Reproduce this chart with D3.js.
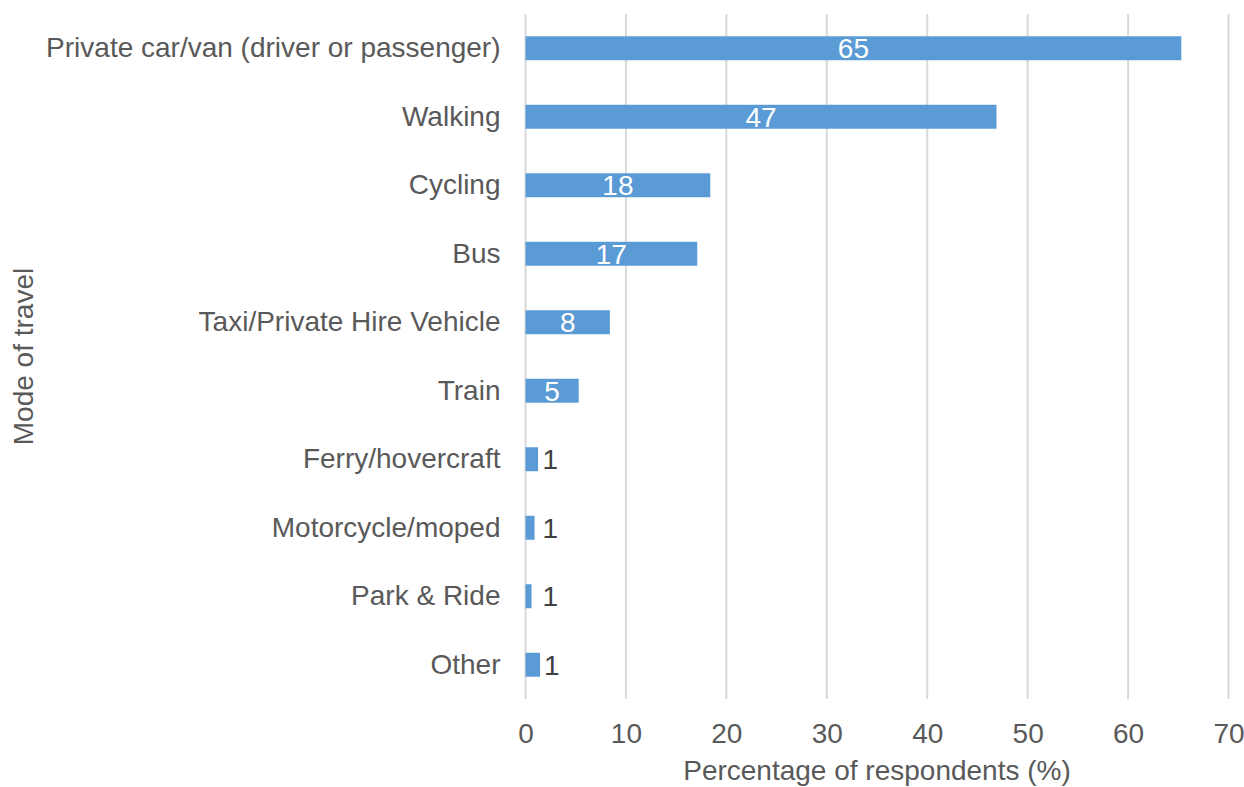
<!DOCTYPE html>
<html>
<head>
<meta charset="utf-8">
<script src="https://cdn.jsdelivr.net/npm/d3@7"></script>
<style>
  html, body { margin: 0; padding: 0; background: #fff; }
  svg text { font-family: "Liberation Sans", Arial, sans-serif; }
</style>
</head>
<body>
<svg id="chart" width="1244" height="787"></svg>
<script>
// Modes of travel and share of respondents using each (%)
const modes = [
  "Private car/van (driver or passenger)",
  "Walking",
  "Cycling",
  "Bus",
  "Taxi/Private Hire Vehicle",
  "Train",
  "Ferry/hovercraft",
  "Motorcycle/moped",
  "Park & Ride",
  "Other"
];
const shares = [65.3, 46.9, 18.4, 17.1, 8.4, 5.3, 1.25, 0.9, 0.6, 1.45];
const xTicks = [0, 10, 20, 30, 40, 50, 60, 70];
const xTitle = "Percentage of respondents (%)";
const yTitle = "Mode of travel";

const rows = modes.map((m, i) => ({ mode: m, value: shares[i] }));

const svg = d3.select("#chart");
const margin = { left: 525.5, right: 15, top: 14, bottom: 88 };
const W = 1244, H = 787;
const fontSize = 28;

const x = d3.scaleLinear().domain([0, 70]).range([margin.left, W - margin.right - 0.5]);
const y = d3.scaleBand().domain(modes).range([margin.top, H - margin.bottom]).paddingInner(0.65).paddingOuter(0.325);

const textCol = "#595959";

// vertical gridlines
svg.append("g")
  .selectAll("line")
  .data(xTicks)
  .join("line")
  .attr("x1", d => x(d)).attr("x2", d => x(d))
  .attr("y1", margin.top).attr("y2", H - margin.bottom)
  .attr("stroke", "#d9d9d9").attr("stroke-width", 2);

// x axis tick labels
const xAxis = d3.axisBottom(x).tickValues(xTicks).tickSize(0).tickPadding(0).tickFormat(d3.format("d"));
const gx = svg.append("g").attr("transform", `translate(0,743)`).call(xAxis);
gx.select(".domain").remove();
gx.selectAll("text").attr("fill", textCol).attr("font-size", fontSize).attr("y", 0).attr("dy", null)
  .style("font-family", "'Liberation Sans', Arial, sans-serif");

// y axis category labels
const yAxis = d3.axisLeft(y).tickSize(0).tickPadding(25);
const gy = svg.append("g").attr("transform", `translate(${margin.left},0)`).call(yAxis);
gy.select(".domain").remove();
gy.selectAll("text").attr("fill", textCol).attr("font-size", fontSize)
  .style("font-family", "'Liberation Sans', Arial, sans-serif");

// bars
svg.append("g")
  .selectAll("rect")
  .data(rows)
  .join("rect")
  .attr("x", x(0))
  .attr("y", d => y(d.mode))
  .attr("width", d => x(d.value) - x(0))
  .attr("height", y.bandwidth())
  .attr("fill", "#5b9bd5");

// value labels: inside for long bars, outside for short ones
const fmt = d3.format(".0f");
svg.append("g")
  .selectAll("text")
  .data(rows)
  .join("text")
  .attr("x", d => d.value >= 4 ? (x(0) + x(d.value)) / 2 : Math.max(x(d.value) + 4, x(0) + 17))
  .attr("y", d => y(d.mode) + y.bandwidth() / 2)
  .attr("dy", "0.36em")
  .attr("text-anchor", d => d.value >= 4 ? "middle" : "start")
  .attr("fill", d => d.value >= 4 ? "#ffffff" : "#404040")
  .attr("font-size", fontSize)
  .text(d => fmt(d.value));

// axis titles
svg.append("text")
  .attr("x", (x(0) + x(70)) / 2)
  .attr("y", 780)
  .attr("text-anchor", "middle")
  .attr("fill", textCol)
  .attr("font-size", fontSize)
  .text(xTitle);

svg.append("text")
  .attr("transform", `translate(33,${(margin.top + H - margin.bottom) / 2}) rotate(-90)`)
  .attr("text-anchor", "middle")
  .attr("fill", textCol)
  .attr("font-size", fontSize)
  .text(yTitle);
</script>
</body>
</html>
